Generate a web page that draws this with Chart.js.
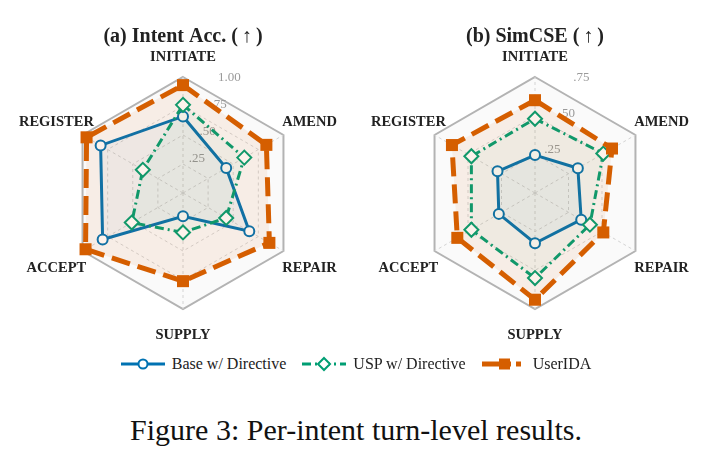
<!DOCTYPE html>
<html>
<head>
<meta charset="utf-8">
<script src="https://cdn.jsdelivr.net/npm/chart.js@4.4.1/dist/chart.umd.min.js"></script>
<style>
  body { margin: 0; background: #fff; width: 712px; height: 453px; position: relative; overflow: hidden; font-family: "Liberation Serif", serif; }
  .box { position: absolute; top: 0; width: 356px; height: 352px; }
  #legend { position: absolute; top: 355px; left: 0; width: 712px; display: flex; justify-content: center; align-items: center; font-size: 16px; color: #222; }
  #legend span.item { display: flex; align-items: center; margin: 0 8px; }
  #legend canvas { margin-right: 7px; }
  #caption { position: absolute; top: 413px; left: 0; width: 712px; text-align: center; font-size: 30px; color: #111; }
</style>
</head>
<body>
<div class="box" style="left:5px"><canvas id="acc" width="356" height="352"></canvas></div>
<div class="box" style="left:357px"><canvas id="sim" width="356" height="352"></canvas></div>
<div id="legend"></div>
<div id="caption">Figure 3: Per-intent turn-level results.</div>

<script>
// ---------------- data ----------------
const intents = ['INITIATE', 'AMEND', 'REPAIR', 'SUPPLY', 'ACCEPT', 'REGISTER'];
const seriesNames = ['Base w/ Directive', 'USP w/ Directive', 'UserIDA'];

// (a) Intent Acc.
const accBase    = [0.66, 0.43, 0.66, 0.20, 0.80, 0.82];
const accUsp     = [0.76, 0.61, 0.43, 0.34, 0.51, 0.40];
const accUserida = [0.93, 0.83, 0.86, 0.76, 0.97, 0.96];
const accTicks      = [0.25, 0.50, 0.75, 1.00];
const accTickLabels = ['.25', '.50', '.75', '1.00'];

// (b) SimCSE
const simBase    = [0.245, 0.32, 0.345, 0.325, 0.27, 0.28];
const simUsp     = [0.48, 0.51, 0.41, 0.55, 0.475, 0.475];
const simUserida = [0.60, 0.575, 0.51, 0.69, 0.58, 0.62];
const simTicks      = [0.25, 0.50, 0.75];
const simTickLabels = ['.25', '.50', '.75'];

const BLUE = '#0072B2', GREEN = '#009E73', ORANGE = '#D55E00';
const SERIF = '"Liberation Serif", "DejaVu Serif", serif';

// light panel behind the outer hexagon, tick labels off to the side,
// and centred axis labels (like matplotlib's polar theta labels)
const radarExtras = {
    id: 'radarExtras',
    beforeDraw(chart, args, opts) {
        const s = chart.scales.r;
        const ctx = chart.ctx;
        ctx.save();
        ctx.beginPath();
        for (let i = 0; i < intents.length; i++) {
            const p = s.getPointPosition(i, s.getDistanceFromCenterForValue(s.max));
            if (i === 0) ctx.moveTo(p.x, p.y); else ctx.lineTo(p.x, p.y);
        }
        ctx.closePath();
        ctx.fillStyle = '#fafafa';
        ctx.fill();
        ctx.restore();
    },
    beforeDatasetsDraw(chart, args, opts) {
        const s = chart.scales.r;
        const ctx = chart.ctx;
        const a = 22 * Math.PI / 180;
        ctx.save();
        ctx.font = '13px ' + SERIF;
        ctx.fillStyle = '#9a9a9a';
        ctx.textAlign = 'center';
        ctx.textBaseline = 'middle';
        opts.ticks.forEach((v, i) => {
            const d = s.getDistanceFromCenterForValue(v) + 8;
            ctx.fillText(opts.labels[i], s.xCenter + d * Math.sin(a), s.yCenter - d * Math.cos(a));
        });
        ctx.restore();
    },
    afterDraw(chart, args, opts) {
        const s = chart.scales.r;
        const ctx = chart.ctx;
        const k  = [1.17, 1.26, 1.26, 1.225, 1.26, 1.26];
        const dy = [0, 2, 2, 0, 2, 2];
        ctx.save();
        ctx.font = 'bold 14.5px ' + SERIF;
        ctx.fillStyle = '#222';
        ctx.textAlign = 'center';
        ctx.textBaseline = 'middle';
        s._pointLabels.forEach((lab, i) => {
            const p = s.getPointPosition(i, s.drawingArea * k[i]);
            ctx.fillText(lab, p.x, p.y + dy[i]);
        });
        ctx.restore();
    }
};

function makeRadar(id, title, base, usp, userida, max, ticks, tickLabels) {
    return new Chart(document.getElementById(id), {
        type: 'radar',
        data: {
            labels: intents,
            datasets: [{
                label: seriesNames[0],
                data: base,
                borderColor: BLUE,
                borderWidth: 3,
                backgroundColor: 'rgba(0,114,178,0.04)',
                fill: true,
                pointStyle: 'circle',
                pointRadius: 5,
                pointBorderWidth: 2,
                pointBackgroundColor: '#fff',
                pointBorderColor: BLUE,
                order: 3
            }, {
                label: seriesNames[1],
                data: usp,
                borderColor: GREEN,
                borderWidth: 3,
                borderDash: [9, 4, 2, 4],
                backgroundColor: 'rgba(0,158,115,0.035)',
                fill: true,
                pointStyle: 'rectRot',
                pointRadius: 7,
                pointBorderWidth: 2,
                pointBackgroundColor: '#fff',
                pointBorderColor: GREEN,
                order: 2
            }, {
                label: seriesNames[2],
                data: userida,
                borderColor: ORANGE,
                borderWidth: 5,
                borderDash: [19, 8],
                backgroundColor: 'rgba(213,94,0,0.08)',
                fill: true,
                pointStyle: 'rect',
                pointRadius: 8.5,
                pointBorderWidth: 0,
                pointBackgroundColor: ORANGE,
                pointBorderColor: ORANGE,
                order: 1
            }]
        },
        options: {
            responsive: false,
            animation: false,
            layout: { padding: { left: 0, right: 0, top: 0, bottom: 43 } },
            scales: {
                r: {
                    min: 0,
                    max: max,
                    ticks: { stepSize: 0.25, display: false },
                    grid: {
                        color: c => c.tick && c.tick.value >= max ? '#b3b3b3' : '#d4d4d4',
                        lineWidth: c => c.tick && c.tick.value >= max ? 2 : 1
                    },
                    border: {
                        dash: c => c.tick && c.tick.value >= max ? [] : [3, 3]
                    },
                    angleLines: { color: '#d4d4d4', lineWidth: 1, borderDash: [3, 3] },
                    pointLabels: { display: false }
                }
            },
            plugins: {
                legend: { display: false },
                tooltip: { enabled: false },
                title: {
                    display: true,
                    text: title,
                    color: '#222',
                    font: { family: SERIF, size: 20, weight: 'bold', lineHeight: 0.8 },
                    padding: { top: 29, bottom: 32 }
                },
                radarExtras: { ticks: ticks, labels: tickLabels }
            }
        },
        plugins: [radarExtras]
    });
}

makeRadar('acc', '(a) Intent Acc. (\u2009↑\u2009)', accBase, accUsp, accUserida, 1.0, accTicks, accTickLabels);
makeRadar('sim', '(b) SimCSE (\u2009↑\u2009)', simBase, simUsp, simUserida, 0.75, simTicks, simTickLabels);

// ---------------- legend (line + marker samples) ----------------
function sample(kind) {
    const c = document.createElement('canvas');
    c.width = 44; c.height = 16;
    const g = c.getContext('2d');
    const y = 8;
    g.beginPath();
    g.moveTo(0, y); g.lineTo(44, y);
    if (kind === 0) { g.strokeStyle = BLUE; g.lineWidth = 3; }
    if (kind === 1) { g.strokeStyle = GREEN; g.lineWidth = 3; g.setLineDash([9, 4, 2, 4]); }
    if (kind === 2) { g.strokeStyle = ORANGE; g.lineWidth = 5; g.setLineDash([17, 8, 4, 30]); }
    g.stroke();
    g.setLineDash([]);
    if (kind === 0) {
        g.beginPath(); g.arc(22, y, 4.5, 0, Math.PI * 2);
        g.fillStyle = '#fff'; g.fill(); g.lineWidth = 2; g.strokeStyle = BLUE; g.stroke();
    } else if (kind === 1) {
        g.beginPath(); g.moveTo(22, y - 6); g.lineTo(28, y); g.lineTo(22, y + 6); g.lineTo(16, y); g.closePath();
        g.fillStyle = '#fff'; g.fill(); g.lineWidth = 2; g.strokeStyle = GREEN; g.stroke();
    } else {
        g.fillStyle = ORANGE; g.fillRect(17, y - 5.5, 11, 11);
        g.fillRect(34, y - 2.5, 5, 5);
    }
    return c;
}
const legend = document.getElementById('legend');
seriesNames.forEach((name, i) => {
    const item = document.createElement('span');
    item.className = 'item';
    item.appendChild(sample(i));
    const t = document.createElement('span');
    t.textContent = name;
    item.appendChild(t);
    legend.appendChild(item);
});
</script>
</body>
</html>
